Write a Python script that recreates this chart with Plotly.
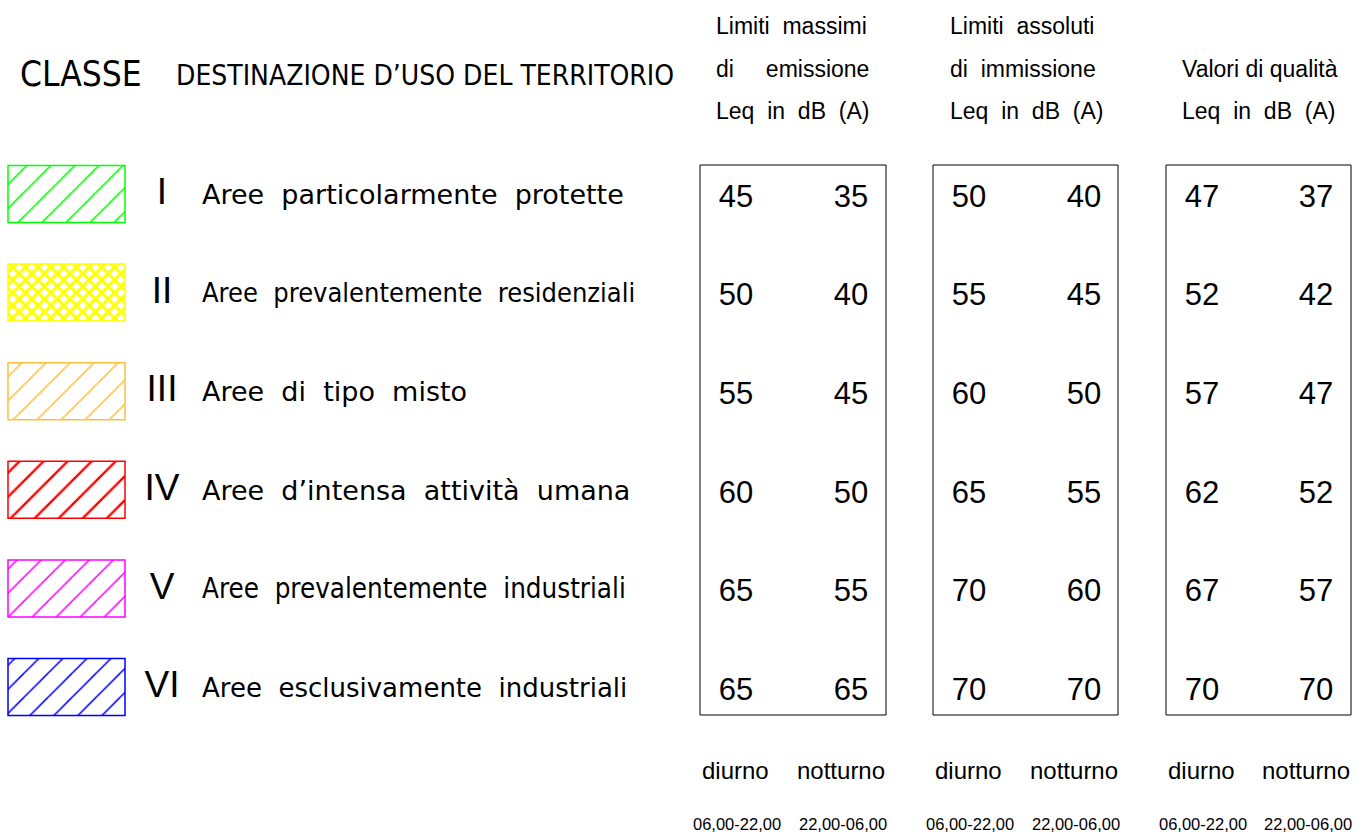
import plotly.graph_objects as go

# ---------------- data ----------------
classes = ["I", "II", "III", "IV", "V", "VI"]
descriptions = [
    "Aree particolarmente protette",
    "Aree prevalentemente residenziali",
    "Aree di tipo misto",
    "Aree d’intensa attività umana",
    "Aree prevalentemente industriali",
    "Aree esclusivamente industriali",
]
swatch_colors = ["#00FF00", "#FFFF00", "#FFC040", "#FF0000", "#FF00FF", "#0000FF"]
swatch_patterns = ["/", "x", "/", "/", "/", "/"]

emissione_diurno = [45, 50, 55, 60, 65, 65]
emissione_notturno = [35, 40, 45, 50, 55, 65]
immissione_diurno = [50, 55, 60, 65, 70, 70]
immissione_notturno = [40, 45, 50, 55, 60, 70]
qualita_diurno = [47, 52, 57, 62, 67, 70]
qualita_notturno = [37, 42, 47, 52, 57, 70]

header_classe = "CLASSE"
header_destinazione = "DESTINAZIONE D’USO DEL TERRITORIO"
group_titles = [
    ["Limiti massimi", "di emissione", "Leq in dB (A)"],
    ["Limiti assoluti", "di immissione", "Leq in dB (A)"],
    ["", "Valori di qualità", "Leq in dB (A)"],
]
period_labels = ["diurno", "notturno"]
period_hours = ["06,00-22,00", "22,00-06,00"]

# ---------------- layout geometry / styles ----------------
W, H = 1363, 834
FONT = "Liberation Sans, Arial, sans-serif"
WIDE = "DejaVu Sans, sans-serif"
COND = "DejaVu Sans Condensed, DejaVu Sans, sans-serif"
NBSP2 = "\u00a0\u00a0"
row_y = [196 + i * 98.6 for i in range(len(classes))]
desc_families = [WIDE, COND, WIDE, WIDE, COND, WIDE]
desc_sizes = [27, 27, 27, 27, 27.5, 26]
box_x = [(700, 886), (933, 1118), (1166, 1351)]
col_centers = [(736, 851), (969, 1084), (1202, 1316)]
title_left = [714, 948, 1180]
value_sets = [
    (emissione_diurno, emissione_notturno),
    (immissione_diurno, immissione_notturno),
    (qualita_diurno, qualita_notturno),
]


def spaced(t, sep=NBSP2):
    return t.replace(" ", sep)


fig = go.Figure()

# hatched swatches as horizontal bars
for i, (c, p) in enumerate(zip(swatch_colors, swatch_patterns)):
    fig.add_trace(go.Bar(
        orientation="h", y=[row_y[i] - 2], x=[117], base=[8], width=[57],
        marker=dict(
            color="white",
            line=dict(color=c, width=1.5),
            pattern=dict(shape=p, fgcolor=c, bgcolor="white",
                         size=9 if p == "x" else 17,
                         solidity=0.55 if p == "x" else (0.14 if c == "#FF0000" else 0.09),
                         fillmode="replace"),
        ),
        showlegend=False, hoverinfo="skip",
    ))

# roman numerals
fig.add_trace(go.Scatter(
    x=[162] * len(classes), y=[y - 1 for y in row_y], text=classes, mode="text",
    textposition="middle center", textfont=dict(family=FONT, size=37, color="black"),
    showlegend=False, hoverinfo="skip",
))
# descriptions
fig.add_trace(go.Scatter(
    x=[202] * len(descriptions), y=[y + 1 for y in row_y],
    text=[spaced(d) for d in descriptions], mode="text",
    textposition="middle right",
    textfont=dict(family=desc_families, size=desc_sizes, color="black"),
    showlegend=False, hoverinfo="skip",
))

# values
for (cd, cn), (vd, vn) in zip(col_centers, value_sets):
    fig.add_trace(go.Scatter(
        x=[cd] * len(vd) + [cn] * len(vn), y=[y + 3 for y in row_y] * 2,
        text=[str(v) for v in vd] + [str(v) for v in vn], mode="text",
        textposition="middle center", textfont=dict(family=FONT, size=31, color="black"),
        showlegend=False, hoverinfo="skip",
    ))

shapes = []
for x0, x1 in box_x:
    shapes.append(dict(type="rect", xref="x", yref="y", x0=x0, x1=x1, y0=165, y1=715,
                       line=dict(color="black", width=1)))

annotations = []
annotations.append(dict(x=18, y=74, text=header_classe, showarrow=False, xanchor="left",
                        yanchor="middle", font=dict(family=COND, size=35, color="black")))
annotations.append(dict(x=174, y=75, text=header_destinazione, showarrow=False, xanchor="left",
                        yanchor="middle", font=dict(family=COND, size=28, color="black")))
title_y = [26, 69, 111]
for gi, (gx, lines) in enumerate(zip(title_left, group_titles)):
    for li, (ty, t) in enumerate(zip(title_y, lines)):
        if t:
            if gi == 0 and li == 1:
                sep = "\u00a0" * 5
            elif gi == 2 and li == 1:
                sep = " "
            else:
                sep = NBSP2
            annotations.append(dict(x=gx, y=ty, text=spaced(t, sep), showarrow=False,
                                    xanchor="left", yanchor="middle",
                                    font=dict(family=FONT, size=23, color="black")))
for (cd, cn) in col_centers:
    for cx, lab, hr in zip((cd - 1, cn - 10), period_labels, period_hours):
        annotations.append(dict(x=cx, y=770, text=lab, showarrow=False, xanchor="center",
                                yanchor="middle", font=dict(family=FONT, size=24, color="black")))
        annotations.append(dict(x=cx + 2, y=824, text=hr, showarrow=False, xanchor="center",
                                yanchor="middle", font=dict(family=FONT, size=16.5, color="black")))

fig.update_layout(
    width=W, height=H, margin=dict(l=0, r=0, t=0, b=0),
    paper_bgcolor="white", plot_bgcolor="white",
    xaxis=dict(range=[0, W], visible=False, showgrid=False, zeroline=False, fixedrange=True),
    yaxis=dict(range=[H, 0], visible=False, showgrid=False, zeroline=False, fixedrange=True),
    shapes=shapes, annotations=annotations, barmode="overlay",
)

fig.write_html("out.html", config={"displayModeBar": False},
               post_script="document.body.style.margin='0px';document.body.style.overflow='hidden';")
